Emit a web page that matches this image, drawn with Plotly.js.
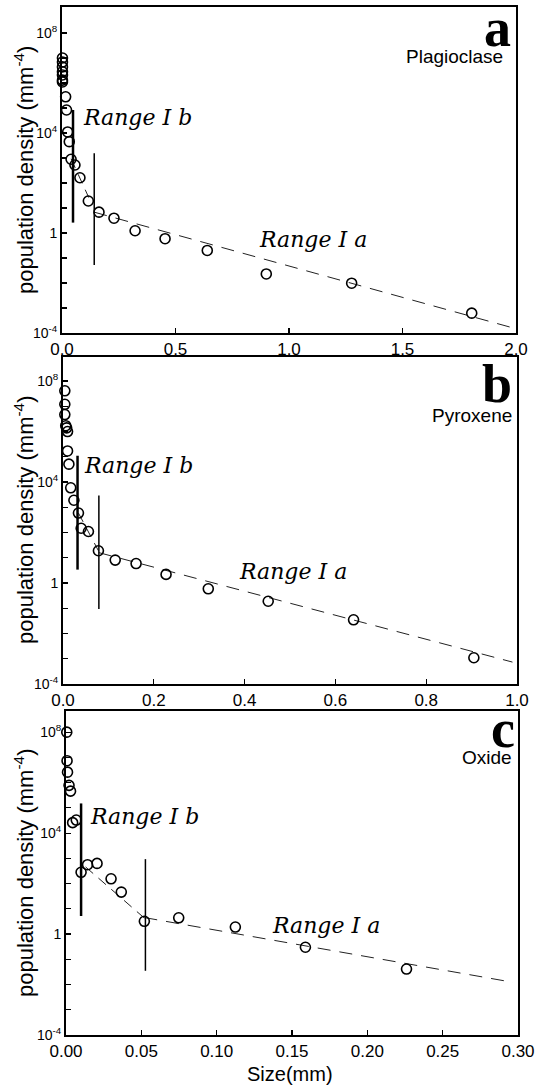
<!DOCTYPE html>
<html>
<head>
<meta charset="utf-8">
<script src="https://cdn.plot.ly/plotly-3.0.1.min.js"></script>
<style>html,body{margin:0;padding:0;background:#fff;}#chart{width:540px;height:1086px;}</style>
</head>
<body>
<div id="chart"></div>
<script>
// ---------- Panel a: Plagioclase ----------
const plagSize = [0.002,0.002,0.002,0.002,0.002,0.002,0.002,0.016,0.020,0.025,0.032,0.040,0.057,0.079,0.116,0.163,0.229,0.322,0.454,0.640,0.900,1.276,1.805];
const plagDensity = [1.0e7,6.9e6,4.4e6,2.8e6,2.1e6,1.3e6,1.1e6,2.8e5,8.3e4,1.1e4,4.5e3,890,525,162,19,6.8,3.9,1.23,0.59,0.20,0.023,0.0098,6.2e-4];
const plagFitIaX = [0.142, 1.98], plagFitIaY = [6.8, 1.66e-4];
const plagFitIbX = [0.040, 0.118], plagFitIbY = [930, 26];
const plagBoundThickX = [0.0485, 0.0485], plagBoundThickY = [8.3e4, 2.6];
const plagBoundThinX = [0.142, 0.142], plagBoundThinY = [1550, 0.052];

// ---------- Panel b: Pyroxene ----------
const pyxSize = [0.004,0.004,0.004,0.006,0.008,0.010,0.010,0.013,0.017,0.024,0.034,0.040,0.056,0.078,0.115,0.161,0.227,0.320,0.452,0.640,0.905];
const pyxDensity = [4.1e7,1.2e7,4.7e6,1.7e6,1.4e6,1.0e6,1.7e5,5.1e4,5.9e3,1.9e3,590,148,110,19,8.1,5.9,2.2,0.59,0.19,0.035,1.1e-3];
const pyxFitIaX = [0.079, 0.99], pyxFitIaY = [16, 7.4e-4];
const pyxFitIbX = [0.034, 0.078], pyxFitIbY = [590, 19];
const pyxBoundThickX = [0.032, 0.032], pyxBoundThickY = [1.1e5, 3.4];
const pyxBoundThinX = [0.079, 0.079], pyxBoundThinY = [2950, 0.093];

// ---------- Panel c: Oxide ----------
const oxSize = [0.0005,0.0007,0.001,0.002,0.003,0.0044,0.0068,0.010,0.0143,0.0206,0.0299,0.0367,0.052,0.0748,0.1124,0.1589,0.226];
const oxDensity = [1.0e8,7.4e6,2.6e6,7.8e5,4.6e5,2.6e4,3.3e4,280,560,630,155,46,3.2,4.4,1.9,0.30,0.041];
const oxFitIaX = [0.052, 0.2965], oxFitIaY = [4.5, 0.0123];
const oxFitIbX = [0.013, 0.052], oxFitIbY = [457, 4.3];
const oxBoundThickX = [0.010, 0.010], oxBoundThickY = [1.5e5, 5.2];
const oxBoundThinX = [0.0527, 0.0527], oxBoundThinY = [930, 0.035];

const panelLetters = ['a','b','c'];
const mineralNames = ['Plagioclase','Pyroxene','Oxide'];
const yTickVals = [1e-4,1,1e4,1e8];
const yTickText = ['10<sup>-4</sup>','1','10<sup>4</sup>','10<sup>8</sup>'];
const yMinorVals = [1e-3,1e-2,1e-1,1e1,1e2,1e3,1e5,1e6,1e7,1e9];
const yTitle = 'population density (mm<sup>-4</sup>)';
const xTitle = 'Size(mm)';
const rangeIbLabel = 'Range <i>I</i> b';
const rangeIaLabel = 'Range <i>I</i> a';

const panels = [
  {x:plagSize,y:plagDensity,iaX:plagFitIaX,iaY:plagFitIaY,ibX:plagFitIbX,ibY:plagFitIbY,tkX:plagBoundThickX,tkY:plagBoundThickY,tnX:plagBoundThinX,tnY:plagBoundThinY},
  {x:pyxSize,y:pyxDensity,iaX:pyxFitIaX,iaY:pyxFitIaY,ibX:pyxFitIbX,ibY:pyxFitIbY,tkX:pyxBoundThickX,tkY:pyxBoundThickY,tnX:pyxBoundThinX,tnY:pyxBoundThinY},
  {x:oxSize,y:oxDensity,iaX:oxFitIaX,iaY:oxFitIaY,ibX:oxFitIbX,ibY:oxFitIbY,tkX:oxBoundThickX,tkY:oxBoundThickY,tnX:oxBoundThinX,tnY:oxBoundThinY}
];

const traces = [];
panels.forEach((p, i) => {
  const xa = i === 0 ? 'x' : 'x' + (i + 1);
  const ya = i === 0 ? 'y' : 'y' + (i + 1);
  traces.push({x:p.iaX, y:p.iaY, xaxis:xa, yaxis:ya, mode:'lines', line:{color:'#222', width:1, dash:'13px,9px'}, hoverinfo:'skip'});
  traces.push({x:p.ibX, y:p.ibY, xaxis:xa, yaxis:ya, mode:'lines', line:{color:'#222', width:1, dash:'10px,7px'}, hoverinfo:'skip'});
  traces.push({x:p.tkX, y:p.tkY, xaxis:xa, yaxis:ya, mode:'lines', line:{color:'#000', width:2.5}, hoverinfo:'skip'});
  traces.push({x:p.tnX, y:p.tnY, xaxis:xa, yaxis:ya, mode:'lines', line:{color:'#000', width:1.5}, hoverinfo:'skip'});
  traces.push({x:p.x, y:p.y, xaxis:xa, yaxis:ya, mode:'markers', cliponaxis:false,
    marker:{symbol:'circle-open', size:10, color:'#000', line:{width:1.6, color:'#000'}}});
});

const fontSans = 'Liberation Sans, Arial, sans-serif';
function xax(domain, range, dtick, fmt, anchor) {
  return {domain:domain, range:range, dtick:dtick, tick0:0, tickformat:fmt, anchor:anchor,
    showline:true, linewidth:2, linecolor:'#000', mirror:true, ticks:'inside', ticklen:5, tickwidth:1.2, tickcolor:'#000',
    showgrid:false, zeroline:false, tickfont:{family:fontSans, size:17, color:'#000'}};
}
function yax(domain, range, anchor) {
  return {domain:domain, type:'log', range:range, tickmode:'array', tickvals:yTickVals, ticktext:yTickText, anchor:anchor,
    showline:true, linewidth:2, linecolor:'#000', mirror:true, ticks:'inside', ticklen:5, tickwidth:1.2, tickcolor:'#000',
    minor:{tickmode:'array', tickvals:yMinorVals, ticks:'inside', ticklen:5, tickwidth:1.2, tickcolor:'#000', showgrid:false},
    showgrid:false, zeroline:false, tickfont:{family:fontSans, size:14, color:'#000'}};
}

const layout = {
  width:540, height:1086, showlegend:false,
  paper_bgcolor:'#fff', plot_bgcolor:'#fff',
  margin:{l:62, r:22, t:7, b:51},
  xaxis: xax([0, 0.9956], [0, 2], 0.5, '.1f', 'y'),
  yaxis: yax([0.6829, 1], [-4, 9.04], 'x'),
  xaxis2: xax([0.0022, 0.9978], [0, 1], 0.2, '.1f', 'y2'),
  yaxis2: yax([0.3414, 0.6595], [-4, 8.95], 'x2'),
  xaxis3: xax([0.0088, 1], [0, 0.3], 0.05, '.2f', 'y3'),
  yaxis3: yax([0, 0.3152], [-4, 8.84], 'x3'),
  annotations: []
};

const serifIt = 'DejaVu Serif, serif';
const rangeLabelPos = [
  {ib:[0.084, 4.6], ia:[0.86, -0.28]},
  {ib:[0.042, 4.67], ia:[0.383, 0.44]},
  {ib:[0.0143, 4.65], ia:[0.1357, 0.32]}
];
const letterPos = [[0.955, 0.980], [0.953, 0.633], [0.967, 0.298]];
const namePos = [[0.9715, 0.9523], [0.991, 0.603], [0.991, 0.2704]];
const yTitlePos = [0.8414, 0.501, 0.1576];

for (let i = 0; i < 3; i++) {
  const xr = i === 0 ? 'x' : 'x' + (i + 1);
  const yr = i === 0 ? 'y' : 'y' + (i + 1);
  layout.annotations.push({xref:xr, yref:yr, x:rangeLabelPos[i].ib[0], y:rangeLabelPos[i].ib[1], text:'<i>'+rangeIbLabel+'</i>', showarrow:false, xanchor:'left', yanchor:'middle', font:{family:serifIt, size:22, color:'#000'}});
  layout.annotations.push({xref:xr, yref:yr, x:rangeLabelPos[i].ia[0], y:rangeLabelPos[i].ia[1], text:'<i>'+rangeIaLabel+'</i>', showarrow:false, xanchor:'left', yanchor:'middle', font:{family:serifIt, size:22, color:'#000'}});
  layout.annotations.push({xref:'paper', yref:'paper', x:letterPos[i][0], y:letterPos[i][1], text:'<b>'+panelLetters[i]+'</b>', showarrow:false, xanchor:'center', yanchor:'middle', font:{family:'Liberation Serif, serif', size:54, color:'#000'}});
  layout.annotations.push({xref:'paper', yref:'paper', x:namePos[i][0], y:namePos[i][1], text:mineralNames[i], showarrow:false, xanchor:'right', yanchor:'middle', font:{family:fontSans, size:19, color:'#000'}});
  layout.annotations.push({xref:'paper', yref:'paper', x:-0.0833, y:yTitlePos[i], text:yTitle, showarrow:false, textangle:-90, xanchor:'center', yanchor:'middle', font:{family:fontSans, size:22, color:'#000'}});
}
layout.annotations.push({xref:'paper', yref:'paper', x:0.5, y:-0.0379, text:xTitle, showarrow:false, xanchor:'center', yanchor:'middle', font:{family:fontSans, size:20, color:'#000'}});

Plotly.newPlot('chart', traces, layout, {staticPlot:true, displayModeBar:false});
</script>
</body>
</html>
